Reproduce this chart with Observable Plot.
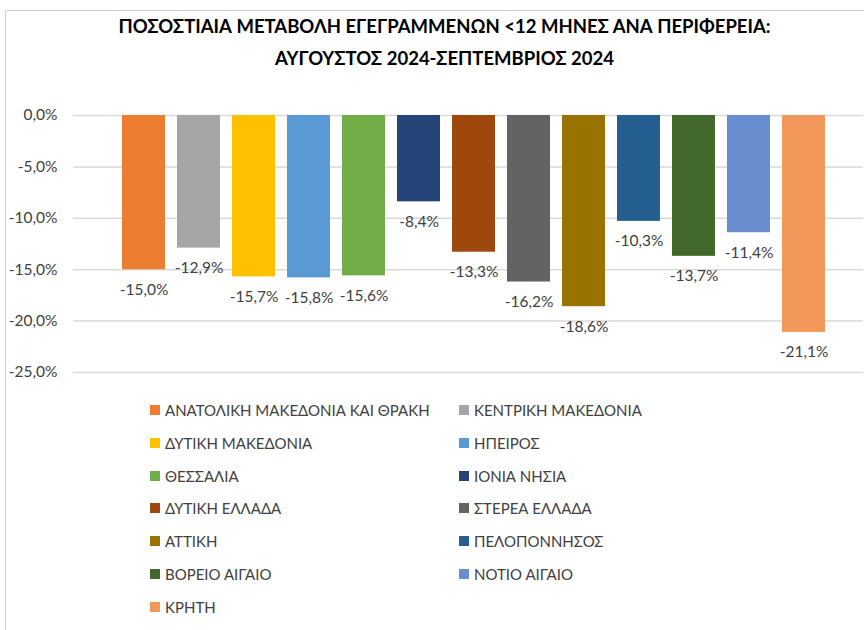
<!DOCTYPE html>
<html>
<head>
<meta charset="utf-8">
<script src="https://cdn.jsdelivr.net/npm/d3@7"></script>
<script src="https://cdn.jsdelivr.net/npm/@observablehq/plot@0.6"></script>
<style>
  html, body { margin: 0; padding: 0; background: #fff; }
  #wrap { position: relative; width: 864px; height: 630px; overflow: hidden; font-family: Lato, "Open Sans", sans-serif; }
  #border { position: absolute; left: 5px; top: 10px; width: 860px; height: 630px; border-left: 1.5px solid #d0d0d0; border-top: 1.5px solid #d0d0d0; box-sizing: border-box; }
  #title { position: absolute; left: 0; width: 889px; top: 10px; text-align: center; font-weight: bold; font-size: 18.5px; line-height: 32px; color: #000; }
  #chart { position: absolute; left: 0; top: 90px; }
  .leg { position: absolute; font-size: 15px; color: #404040; white-space: nowrap; display: flex; align-items: center; height: 20px; }
  .leg .sw { width: 10px; height: 10px; margin-right: 5px; flex: none; }
</style>
</head>
<body>
<div id="wrap">
  <div id="border"></div>
  <div id="title"></div>
  <div id="chart"></div>
</div>
<script>
const titleLines = [
  "ΠΟΣΟΣΤΙΑΙΑ ΜΕΤΑΒΟΛΗ ΕΓΕΓΡΑΜΜΕΝΩΝ <12 ΜΗΝΕΣ ΑΝΑ ΠΕΡΙΦΕΡΕΙΑ:",
  "ΑΥΓΟΥΣΤΟΣ 2024-ΣΕΠΤΕΜΒΡΙΟΣ 2024"
];
const regions = [
  "ΑΝΑΤΟΛΙΚΗ ΜΑΚΕΔΟΝΙΑ ΚΑΙ ΘΡΑΚΗ",
  "ΚΕΝΤΡΙΚΗ ΜΑΚΕΔΟΝΙΑ",
  "ΔΥΤΙΚΗ ΜΑΚΕΔΟΝΙΑ",
  "ΗΠΕΙΡΟΣ",
  "ΘΕΣΣΑΛΙΑ",
  "ΙΟΝΙΑ ΝΗΣΙΑ",
  "ΔΥΤΙΚΗ ΕΛΛΑΔΑ",
  "ΣΤΕΡΕΑ ΕΛΛΑΔΑ",
  "ΑΤΤΙΚΗ",
  "ΠΕΛΟΠΟΝΝΗΣΟΣ",
  "ΒΟΡΕΙΟ ΑΙΓΑΙΟ",
  "ΝΟΤΙΟ ΑΙΓΑΙΟ",
  "ΚΡΗΤΗ"
];
const values = [-15.0, -12.9, -15.7, -15.8, -15.6, -8.4, -13.3, -16.2, -18.6, -10.3, -13.7, -11.4, -21.1];
const colors = ["#ED7D31", "#A5A5A5", "#FFC000", "#5B9BD5", "#70AD47", "#264478", "#9E480E", "#636363", "#997300", "#255E91", "#43682B", "#698ED0", "#F1975A"];
const yTicks = [0, -5, -10, -15, -20, -25];

const fmt = v => v.toFixed(1).replace(".", ",") + "%";
const data = regions.map((r, i) => ({region: r, value: values[i]}));

document.getElementById("title").innerHTML = titleLines.map(t => t.replace(/</g, "&lt;")).join("<br>");

const plot = Plot.plot({
  width: 864,
  height: 300,
  marginTop: 25,
  marginBottom: 18,
  marginLeft: 73,
  marginRight: 1,
  style: {fontFamily: "Lato, 'Open Sans', sans-serif", background: "transparent"},
  x: {domain: regions, paddingInner: 0.22, paddingOuter: 0.11, insetLeft: 43, insetRight: 31.5, axis: null},
  y: {domain: [-25, 0], ticks: yTicks},
  color: {domain: regions, range: colors},
  marks: [
    Plot.ruleY(yTicks, {stroke: "#d9d9d9", strokeWidth: 1.5}),
    Plot.barY(data, {x: "region", y: "value", fill: "region"}),
    Plot.text(data, {x: "region", y: "value", text: d => fmt(d.value), dy: 20, fontSize: 15.5, fill: "#404040"}),
    Plot.axisY(yTicks, {tickSize: 0, tickPadding: 16, tickFormat: fmt, fontSize: 15.5, fill: "#404040", label: null})
  ]
});
document.getElementById("chart").appendChild(plot);

const wrap = document.getElementById("wrap");
regions.forEach((r, i) => {
  const col = i % 2, row = Math.floor(i / 2);
  const el = document.createElement("div");
  el.className = "leg";
  el.style.left = (col === 0 ? 150 : 459) + "px";
  el.style.top = (410 + row * 32.8 - 10) + "px";
  el.innerHTML = `<span class="sw" style="background:${colors[i]}"></span><span>${r}</span>`;
  wrap.appendChild(el);
});
</script>
</body>
</html>
